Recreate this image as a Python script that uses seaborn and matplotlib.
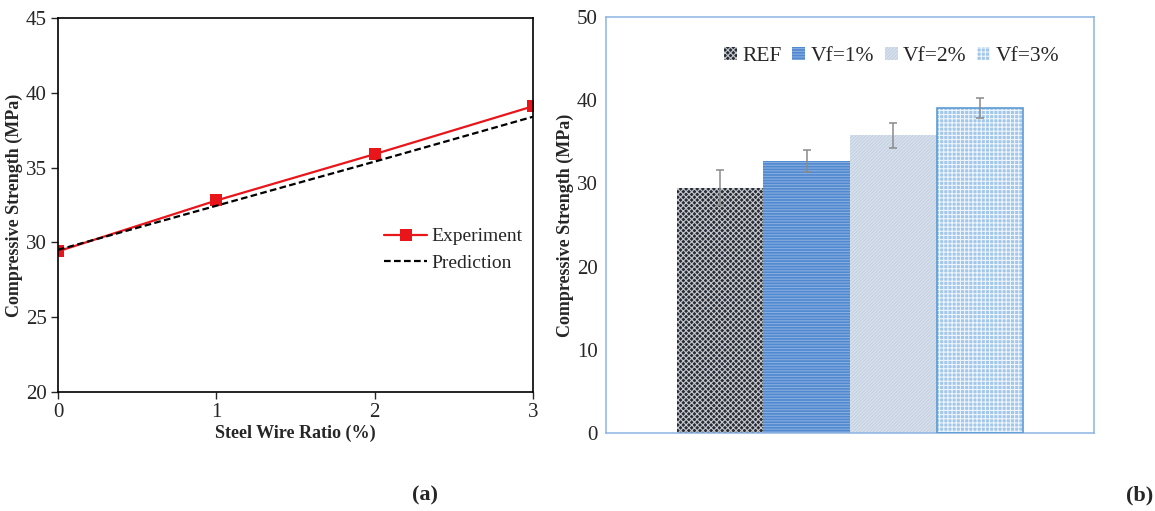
import numpy as np
import pandas as pd
import matplotlib
matplotlib.use('Agg')
import matplotlib.pyplot as plt
import seaborn as sns
from matplotlib.patches import Rectangle

# (a) compressive strength vs steel wire ratio
wire_ratio = [0, 1, 2, 3]
experiment = [29.4, 32.8, 35.9, 39.1]
prediction = [29.5, 32.45, 35.4, 38.4]

# (b) bar chart per mix
mixes = ['REF', 'Vf=1%', 'Vf=2%', 'Vf=3%']
strength = [29.5, 32.7, 35.8, 39.1]
strength_err = [2.1, 1.3, 1.5, 1.2]

sns.set_style('ticks')
plt.rcParams['font.family'] = ['Liberation Serif', 'DejaVu Serif']
plt.rcParams['hatch.linewidth'] = 0.8

fig = plt.figure(figsize=(11.55, 5.11), dpi=100)

# ---- panel (a)
ax1 = fig.add_axes([0.0502, 0.2329, 0.4113, 0.7319])
line_df = pd.DataFrame({'ratio': wire_ratio * 2,
                        'strength': experiment + prediction,
                        'series': ['Experiment'] * 4 + ['Prediction'] * 4})
sns.lineplot(data=line_df[line_df.series == 'Experiment'], x='ratio', y='strength',
             color='#E8151B', lw=1.6, marker='s', markersize=8, markeredgewidth=0,
             label='Experiment', ax=ax1)
sns.lineplot(data=line_df[line_df.series == 'Prediction'], x='ratio', y='strength',
             color='black', lw=1.6, linestyle=(0, (3, 1.5)), label='Prediction', ax=ax1)
ax1.set_xlim(0, 3)
ax1.set_ylim(20, 45)
ax1.set_xticks([0, 1, 2, 3])
ax1.set_yticks([20, 25, 30, 35, 40, 45])
ax1.tick_params(labelsize=15, length=5, width=1, direction='out', pad=3)
for s in ax1.spines.values():
    s.set_color('black')
    s.set_linewidth(1.2)
ax1.set_xlabel('Steel Wire Ratio (%)', fontsize=13, fontweight='bold', labelpad=2)
ax1.set_ylabel('Compressive Strength (MPa)', fontsize=13, fontweight='bold', labelpad=2)
ax1.legend(loc='center left', bbox_to_anchor=(0.65, 0.38), frameon=False,
           fontsize=14, handlelength=2.2, handletextpad=0.2, labelspacing=0.45)

# ---- panel (b)
ax2 = fig.add_axes([0.5247, 0.1526, 0.4225, 0.8141])
bar_df = pd.DataFrame({'group': [''] * 4, 'mix': mixes, 'strength': strength})
sns.barplot(data=bar_df, x='group', y='strength', hue='mix', hue_order=mixes,
            width=0.71, gap=0, legend=False, ax=ax2)

styles = [
    dict(face='#252C3B', hatch='xxxxxx', hc='#C8C8C8'),
    dict(face='#5089D0', hatch='------', hc='#88AEE0'),
    dict(face='#C3D1E1', hatch='//////////', hc='#DCE4EE'),
    dict(face='#A3C7E9', hatch='++++', hc='#EEF5FC'),
]
for cont, st, err in zip(ax2.containers, styles, strength_err):
    p = cont.patches[0]
    p.set_facecolor(st['face'])
    p.set_hatch(st['hatch'])
    p.set_edgecolor(st['hc'])
    p.set_linewidth(0)
    xc = p.get_x() + p.get_width() / 2
    ax2.errorbar(xc, p.get_height(), yerr=err, color='#8A8A8A', lw=1.1,
                 capsize=3, capthick=1.1, zorder=5)
# blue outline of the last bar
last = ax2.containers[3].patches[0]
ax2.add_patch(Rectangle((last.get_x(), 0), last.get_width(), last.get_height(),
                        fill=False, edgecolor='#5B9BD5', lw=1.2, zorder=4))

ax2.set_xlim(-0.5, 0.5)
ax2.set_ylim(0, 50)
ax2.set_yticks([0, 10, 20, 30, 40, 50])
ax2.set_xticks([])
ax2.tick_params(axis='y', labelsize=15, length=0, pad=6)
ax2.set_xlabel('')
for s in ax2.spines.values():
    s.set_color('#8DB4E2')
    s.set_linewidth(1.1)
ax2.set_ylabel('Compressive Strength (MPa)', fontsize=13, fontweight='bold', labelpad=2)
ax2.legend(list(ax2.containers), mixes, loc='center', bbox_to_anchor=(0.585, 0.905),
           ncol=4, frameon=False, fontsize=15.5, handlelength=0.6, handleheight=0.6,
           handletextpad=0.25, columnspacing=0.5)

fig.text(425 / 1155, 1 - 495 / 511, '(a)', fontsize=16, fontweight='bold',
         ha='center', va='center')
fig.text(1140 / 1155, 1 - 495 / 511, '(b)', fontsize=16, fontweight='bold',
         ha='center', va='center')

fig.savefig('out.png', dpi=100)
